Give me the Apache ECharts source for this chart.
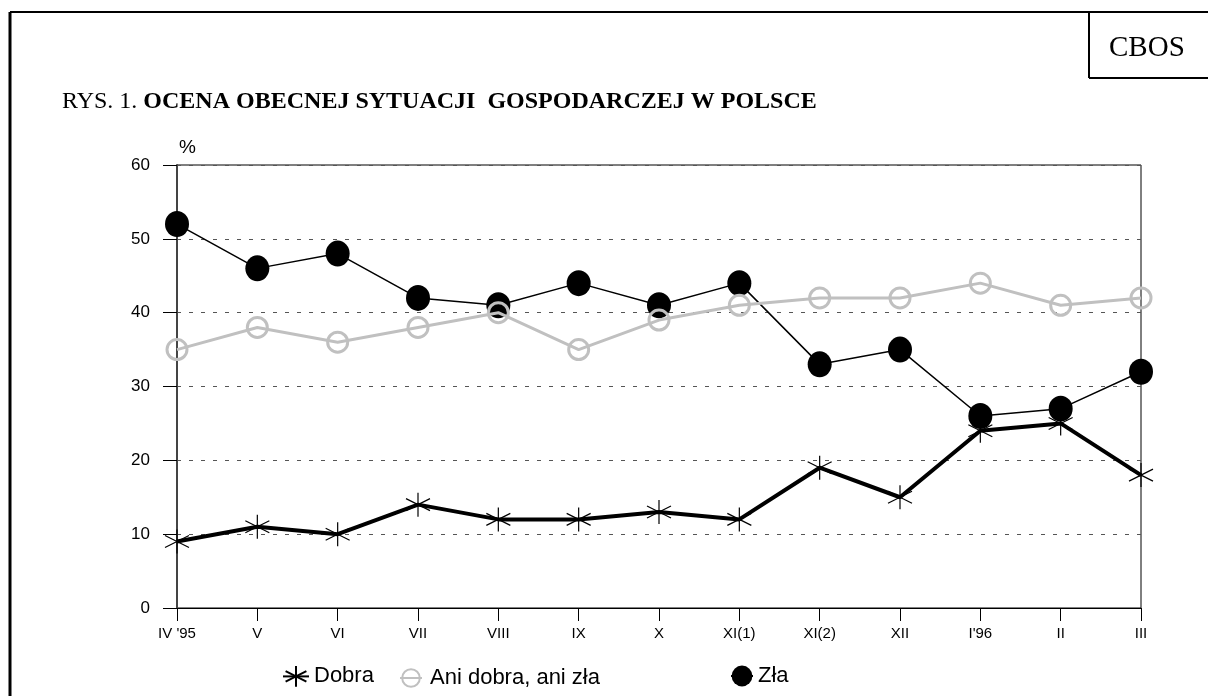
<!DOCTYPE html>
<html>
<head>
<meta charset="utf-8">
<script src="https://cdn.jsdelivr.net/npm/echarts@6/dist/echarts.min.js"></script>
<style>
  html, body { margin: 0; padding: 0; background: #fff; }
  #chart { width: 1208px; height: 696px; }
</style>
</head>
<body>
<div id="chart"></div>
<script>
// ---- data ----
var months = ["IV '95", 'V', 'VI', 'VII', 'VIII', 'IX', 'X', 'XI(1)', 'XI(2)', 'XII', "I'96", 'II', 'III'];
var dobra = [9, 11, 10, 14, 12, 12, 13, 12, 19, 15, 24, 25, 18];
var aniDobraAniZla = [35, 38, 36, 38, 40, 35, 39, 41, 42, 42, 44, 41, 42];
var zla = [52, 46, 48, 42, 41, 44, 41, 44, 33, 35, 26, 27, 32];
var yTicks = { min: 0, max: 60, step: 10 };

var starPath = 'path://M12,0 L12,24 M0,6 L24,18 M0,18 L24,6';
var labelFont = 'Liberation Sans';

var chart = echarts.init(document.getElementById('chart'));

var option = {
    backgroundColor: '#fff',
    animation: false,
    title: [
        {
            text: '{a|RYS. 1. }{b|OCENA OBECNEJ SYTUACJI  GOSPODARCZEJ W POLSCE}',
            left: 62, top: 90, padding: 0,
            textStyle: {
                fontWeight: 'normal',
                rich: {
                    a: { fontFamily: 'Liberation Serif', fontSize: 24, fontWeight: 'normal', color: '#000' },
                    b: { fontFamily: 'Liberation Serif', fontSize: 24, fontWeight: 'bold', color: '#000' }
                }
            }
        },
        {
            text: 'CBOS',
            left: 1104, top: 29,
            textStyle: { fontFamily: 'Liberation Serif', fontSize: 29, fontWeight: 'normal', color: '#000' }
        }
    ],
    // outer frame + CBOS box
    graphic: [
        { type: 'line', shape: { x1: 10, y1: 12, x2: 1208, y2: 12 }, style: { stroke: '#000', lineWidth: 2 } },
        { type: 'line', shape: { x1: 10, y1: 12, x2: 10, y2: 696 }, style: { stroke: '#000', lineWidth: 3 } },
        { type: 'line', shape: { x1: 1089, y1: 12, x2: 1089, y2: 78 }, style: { stroke: '#000', lineWidth: 2 } },
        { type: 'line', shape: { x1: 1089, y1: 78, x2: 1208, y2: 78 }, style: { stroke: '#000', lineWidth: 2 } }
    ],
    legend: [
        {
            data: ['Dobra'], left: 277, top: 660, itemWidth: 26, itemHeight: 26,
            textStyle: { fontFamily: labelFont, fontSize: 22, color: '#000' }
        },
        {
            data: ['Ani dobra, ani zła'], left: 394, top: 662, itemWidth: 22, itemHeight: 22,
            textStyle: { fontFamily: labelFont, fontSize: 22, color: '#000', padding: [0, 0, 0, 3] }
        },
        {
            data: ['Zła'], left: 725, top: 660, itemWidth: 22, itemHeight: 26,
            textStyle: { fontFamily: labelFont, fontSize: 22, color: '#000' }
        }
    ],
    grid: {
        left: 177, right: 67, top: 165, bottom: 88,
        show: true, borderColor: '#000', borderWidth: 1, backgroundColor: 'transparent'
    },
    xAxis: {
        type: 'category',
        data: months,
        boundaryGap: false,
        axisLine: { lineStyle: { color: '#000', width: 1 } },
        axisTick: { show: true, length: 13, lineStyle: { color: '#000' } },
        axisLabel: { margin: 18, fontFamily: labelFont, fontSize: 15, color: '#000' },
        splitLine: { show: false }
    },
    yAxis: {
        type: 'value',
        min: yTicks.min, max: yTicks.max, interval: yTicks.step,
        name: '%',
        nameLocation: 'end',
        nameGap: 8,
        nameTextStyle: { fontFamily: labelFont, fontSize: 19, color: '#000', align: 'left', padding: [0, 0, 0, 2] },
        axisLine: { show: true, lineStyle: { color: '#444', width: 2 } },
        axisTick: { show: true, length: 14, lineStyle: { color: '#000' } },
        axisLabel: { margin: 27, fontFamily: labelFont, fontSize: 17, color: '#000' },
        splitLine: { show: true, lineStyle: { color: '#555', type: [4, 8], width: 1 } }
    },
    series: [
        {
            name: 'Zła',
            type: 'line',
            data: zla,
            symbol: 'circle',
            symbolSize: [24, 26],
            itemStyle: { color: '#000' },
            lineStyle: { color: '#000', width: 1.5 },
            z: 2
        },
        {
            name: 'Ani dobra, ani zła',
            type: 'line',
            data: aniDobraAniZla,
            symbol: 'circle',
            symbolSize: 20,
            itemStyle: { color: 'rgba(255,255,255,0)', borderColor: '#c0c0c0', borderWidth: 3 },
            lineStyle: { color: '#c0c0c0', width: 3 },
            z: 3
        },
        {
            name: 'Dobra',
            type: 'line',
            data: dobra,
            symbol: starPath,
            symbolSize: [24, 24],
            itemStyle: { color: '#000', borderColor: '#000', borderWidth: 1.2 },
            lineStyle: { color: '#000', width: 4 },
            z: 4
        }
    ]
};

chart.setOption(option);
</script>
</body>
</html>
